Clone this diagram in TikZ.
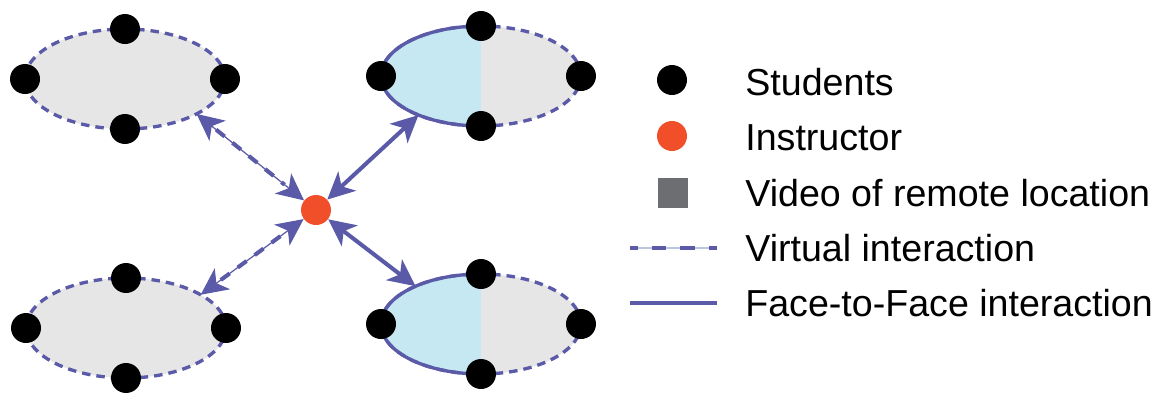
\documentclass[tikz,border=0pt]{standalone}
\usepackage{fontspec}
\setmainfont{Liberation Sans}
\usetikzlibrary{shapes.geometric,arrows.meta}

\definecolor{linkblue}{RGB}{90,90,168}
\definecolor{linkpale}{RGB}{190,195,222}
\definecolor{roomgray}{RGB}{230,230,230}
\definecolor{roomblue}{RGB}{198,232,242}
\definecolor{instred}{RGB}{241,78,42}
\definecolor{videogray}{RGB}{109,110,113}

\tikzset{
  bigtip/.tip={Stealth[length=0.54cm,width=0.52cm,inset=0.15cm]},
  room/.style={ellipse, inner sep=0pt, outer sep=0pt, minimum width=4cm,
    minimum height=2cm, fill=roomgray},
  virtualedge/.style={draw=linkblue, line width=1.9pt, dash pattern=on 0.17cm off 0.12cm},
  roomedge/.style={draw=linkblue, line width=1.9pt},
  halfblue/.style={path picture={\fill[roomblue] (path picture bounding box.south west)
    rectangle (path picture bounding box.north);}},
  student/.style={circle, fill=black, inner sep=0pt, minimum size=0.6cm},
  instructor/.style={circle, fill=instred, inner sep=0pt, minimum size=0.6cm},
  videokey/.style={rectangle, fill=videogray, inner sep=0pt, minimum size=0.6cm},
  virtual/.style={linkblue, line width=0.7pt, bigtip-bigtip,
    postaction={draw, -, line width=2.3pt, dash pattern=on 0.22cm off 0.2cm,
      shorten <=0.5cm, shorten >=0.5cm}},
  facetoface/.style={linkblue, line width=2.3pt, bigtip-bigtip},
  legendtext/.style={anchor=base west, inner sep=0pt, font=\fontsize{21.4}{25}\selectfont}
}

\begin{document}
\begin{tikzpicture}[x=0.02cm, y=-0.02cm]
  \useasboundingbox (0,0) rectangle (1154,397);

  % Remote rooms
  \node[room, virtualedge] (tl) at (125,79) {};
  \node[room, virtualedge] (bl) at (126,328) {};
  % Rooms shared with the instructor
  \node[room, virtualedge, halfblue] (tr) at (481,76) {};
  \node[room, virtualedge, halfblue] (br) at (481,324) {};
  \draw[roomedge] (tr.north) arc[start angle=90, end angle=270, x radius=2cm, y radius=1cm];
  \draw[roomedge] (br.north) arc[start angle=90, end angle=270, x radius=2cm, y radius=1cm];

  % Students
  \foreach \r in {tl,tr,bl,br}
    \foreach \a in {north,south,east,west}
      \node[student] (\r-\a) at (\r.\a) {};

  % Instructor
  \node[instructor] (inst) at (316,210) {};

  % Interactions
  \draw[virtual] (tl.-26) -- (inst);
  \draw[virtual] (bl.24) -- (inst);
  \draw[facetoface] (tr.-148) -- (inst);
  \draw[facetoface] (br.150) -- (inst);

  % Legend
  \node[student] (key-stud) at (672,80) {};
  \node[legendtext] (txt-stud) at (745,95) {Students};
  \node[instructor] (key-inst) at (672,136) {};
  \node[legendtext] (txt-inst) at (745,150) {Instructor};
  \node[videokey] (key-video) at (673,193) {};
  \node[legendtext] (txt-video) at (745,206) {Video of remote location};
  \draw[linkpale, line width=0.7pt] (630,248) -- (717,248);
  \draw[linkblue, line width=1.9pt, dash pattern=on 0.3cm off 0.28cm, dash phase=0.15cm]
    (630,248) -- (717,248);
  \node[legendtext] (txt-virt) at (745,261) {Virtual interaction};
  \draw[roomedge] (630,303) -- (717,303);
  \node[legendtext] (txt-f2f) at (745,316) {Face-to-Face interaction};
\end{tikzpicture}
\end{document}
